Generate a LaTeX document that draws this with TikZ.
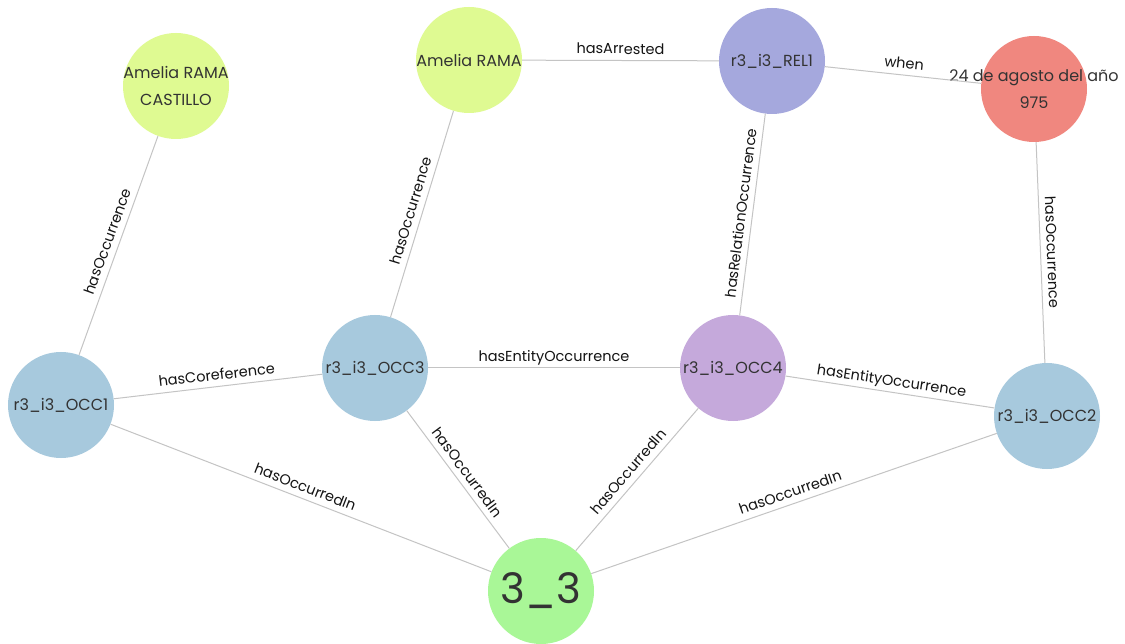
\documentclass[tikz,border=0pt]{standalone}
\usepackage{fontspec}
\setmainfont{Poppins}
\definecolor{cYel}{HTML}{DFFA92}
\definecolor{cRel}{HTML}{A5A8DD}
\definecolor{cDate}{HTML}{F0877F}
\definecolor{cBlue}{HTML}{A7C9DD}
\definecolor{cPurp}{HTML}{C5A9DB}
\definecolor{cGreen}{HTML}{A9F797}
\definecolor{cEdge}{HTML}{C4C4C4}
\definecolor{cNodeText}{HTML}{333333}
\definecolor{cEdgeText}{HTML}{141414}
\tikzset{
  circ/.style={circle, minimum size=106pt, inner sep=0pt, draw=none},
  ntext/.style={text=cNodeText, font=\fontsize{16}{27}\selectfont, align=center, inner sep=0pt},
  edge/.style={draw=cEdge, line width=1pt},
  elabel/.style={sloped, above=6pt, inner sep=0pt, text depth=0pt, text=cEdgeText, font=\fontsize{14.5}{16}\selectfont}
}
\begin{document}
\begin{tikzpicture}[x=1pt, y=-1pt]
\fill[white] (0,0) rectangle (1125,644);
\useasboundingbox (0,0) rectangle (1125,644);
% nodes
\node[circ, fill=cYel, label={[ntext]center:Amelia RAMA\\CASTILLO}] (arc) at (176,86) {};
\node[circ, fill=cYel, label={[ntext]center:Amelia RAMA}] (ar) at (469,60) {};
\node[circ, fill=cRel, label={[ntext]center:r3\_i3\_REL1}] (rel) at (772,61) {};
\node[circ, fill=cDate, label={[ntext]center:24 de agosto del año\\975}] (date) at (1034,89) {};
\node[circ, fill=cBlue, label={[ntext]center:r3\_i3\_OCC1}] (occ1) at (61,405) {};
\node[circ, fill=cBlue, label={[ntext]center:r3\_i3\_OCC3}] (occ3) at (375,368) {};
\node[circ, fill=cPurp, label={[ntext]center:r3\_i3\_OCC4}] (occ4) at (733,368) {};
\node[circ, fill=cBlue, label={[ntext]center:r3\_i3\_OCC2}] (occ2) at (1047,416) {};
\node[circ, fill=cGreen, label={[ntext, font=\fontsize{42}{42}\selectfont]center:3\_3}] (s33) at (541,591) {};
% edges
\path[edge] (occ1) -- node[elabel]{hasOccurrence} (arc);
\path[edge] (occ3) -- node[elabel]{hasOccurrence} (ar);
\path[edge] (ar) -- node[elabel]{hasArrested} (rel);
\path[edge] (rel) -- node[elabel]{when} (date);
\path[edge] (occ4) -- node[elabel]{hasRelationOccurrence} (rel);
\path[edge] (date) -- node[elabel]{hasOccurrence} (occ2);
\path[edge] (occ1) -- node[elabel]{hasCoreference} (occ3);
\path[edge] (occ3) -- node[elabel]{hasEntityOccurrence} (occ4);
\path[edge] (occ4) -- node[elabel]{hasEntityOccurrence} (occ2);
\path[edge] (occ1) -- node[elabel]{hasOccurredIn} (s33);
\path[edge] (occ3) -- node[elabel]{hasOccurredIn} (s33);
\path[edge] (s33) -- node[elabel]{hasOccurredIn} (occ4);
\path[edge] (s33) -- node[elabel]{hasOccurredIn} (occ2);
\end{tikzpicture}
\end{document}
